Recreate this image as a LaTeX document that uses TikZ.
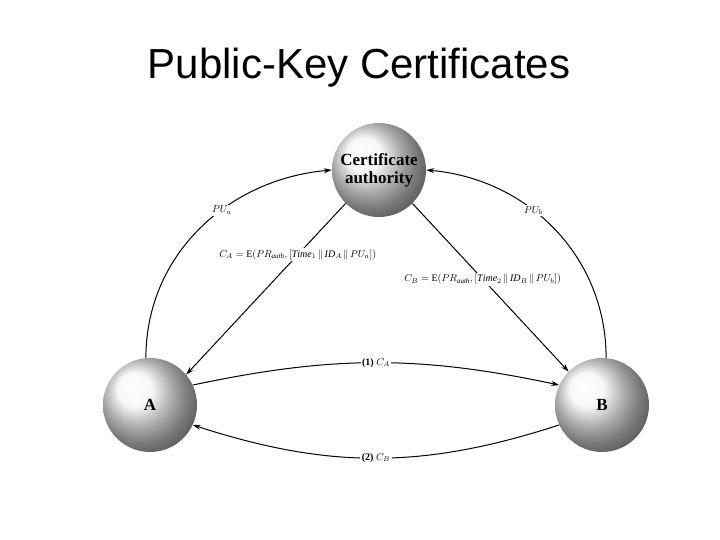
\documentclass[tikz,border=0pt]{standalone}
\usepackage{fontspec}
\setmainfont{Liberation Serif}
\newfontfamily\titlefont{Liberation Sans}
\usetikzlibrary{arrows.meta}
\begin{document}
\begin{tikzpicture}[x=1pt,y=-1pt,
  ball/.style={circle,minimum size=94pt,inner sep=0pt,shading=ball,ball color=gray!8,font=\bfseries\fontsize{17}{18}\selectfont,align=center},
  conn/.style={-{Stealth[length=8pt,width=5pt]},line width=1pt},
  lab/.style={fill=white,inner sep=1.5pt,font=\fontsize{10}{12}\selectfont}]
\useasboundingbox[fill=white] (0,0) rectangle (720,540);
\node[font=\titlefont\fontsize{42}{46}\selectfont] (title) at (359,68) {Public-Key Certificates};
\node[ball] (ca) at (379,170) {Certificate\\authority};
\node[ball] (a) at (150,405) {A};
\node[ball] (b) at (602,405) {B};
\draw[conn] (a.95) to[out=90,in=185,looseness=1] node[pos=0.6,lab]{$PU_a$} (ca.180);
\draw[conn] (b.85) to[out=90,in=-5,looseness=1] node[pos=0.6,lab]{$PU_b$} (ca.0);
\draw[conn] (ca.225) -- node[pos=0.3,lab]{$C_A=\mathrm{E}(PR_{\mathit{auth}},[\mathit{Time}_1\,\|\,\mathit{ID}_A\,\|\,PU_a])$} (a.40);
\draw[conn] (ca.315) -- node[pos=0.45,lab]{$C_B=\mathrm{E}(PR_{\mathit{auth}},[\mathit{Time}_2\,\|\,\mathit{ID}_B\,\|\,PU_b])$} (b.135);
\draw[conn] (a.25) to[bend left=12] node[lab]{\textbf{(1)} $C_A$} (b.155);
\draw[conn] (b.205) to[bend left=18] node[lab]{\textbf{(2)} $C_B$} (a.-25);
\end{tikzpicture}
\end{document}
